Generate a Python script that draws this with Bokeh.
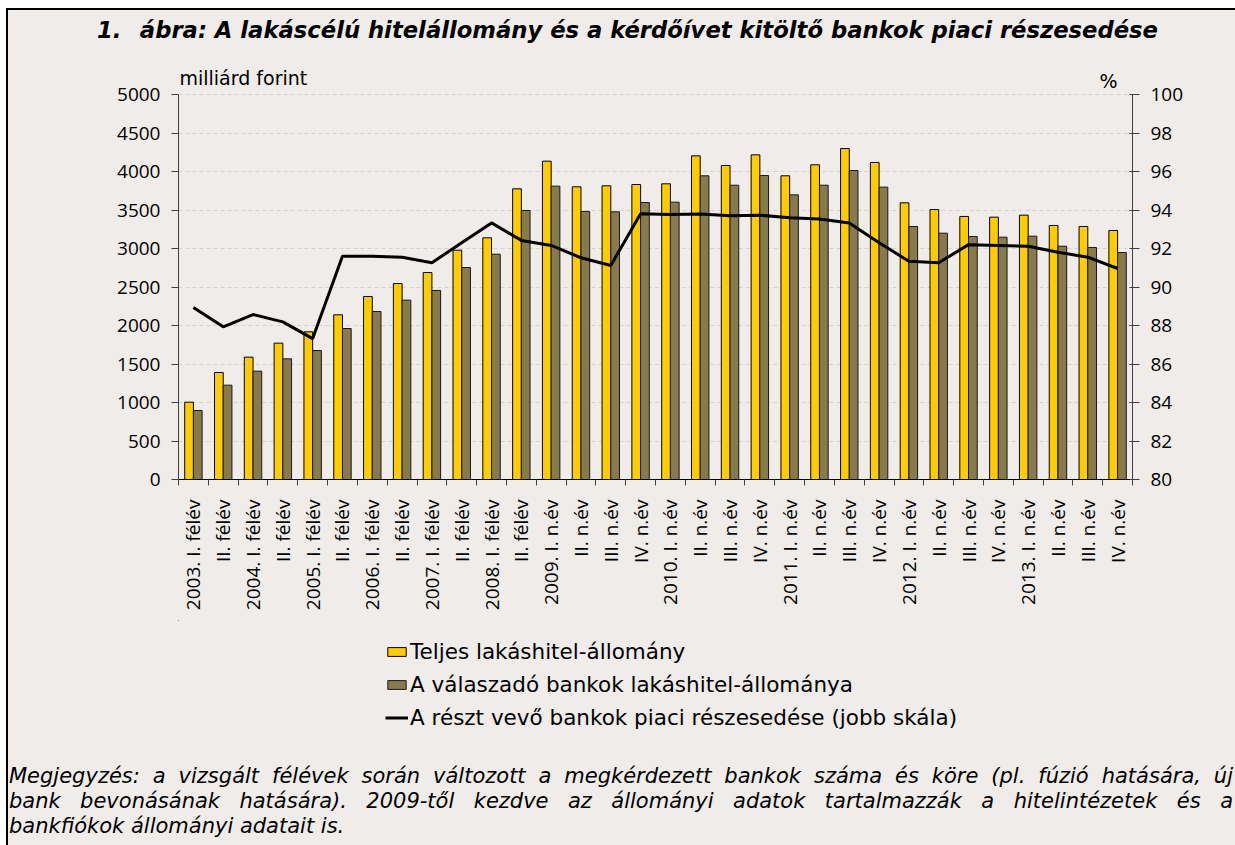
import math
from bokeh.plotting import figure
from bokeh.layouts import column
from bokeh.models import (ColumnDataSource, Range1d, LinearAxis, FixedTicker, Label,
                          Legend, LegendItem, Div)
from bokeh.transform import dodge
from bokeh.embed import file_html
from bokeh.resources import INLINE

# ---------------- data ----------------
categories = ["2003. I. félév", "II. félév", "2004. I. félév", "II. félév",
              "2005. I. félév", "II. félév", "2006. I. félév", "II. félév",
              "2007. I. félév", "II. félév", "2008. I. félév", "II. félév",
              "2009. I. n.év", "II. n.év", "III. n.év", "IV. n.év",
              "2010. I. n.év", "II. n.év", "III. n.év", "IV. n.év",
              "2011. I. n.év", "II. n.év", "III. n.év", "IV. n.év",
              "2012. I. n.év", "II. n.év", "III. n.év", "IV. n.év",
              "2013. I. n.év", "II. n.év", "III. n.év", "IV. n.év"]
total_stock = [1004, 1390, 1589, 1771, 1918, 2139, 2377, 2545, 2688, 2978, 3139, 3775,
               4134, 3801, 3814, 3831, 3840, 4203, 4078, 4216, 3944, 4087, 4298, 4117,
               3593, 3506, 3416, 3407, 3433, 3299, 3286, 3234]
resp_stock = [896, 1225, 1407, 1567, 1675, 1961, 2182, 2329, 2455, 2753, 2926, 3494,
              3810, 3481, 3476, 3597, 3602, 3944, 3822, 3948, 3697, 3822, 4013, 3797,
              3286, 3199, 3156, 3147, 3160, 3030, 3013, 2948]
market_share = [88.94, 87.93, 88.57, 88.19, 87.32, 91.60, 91.60, 91.55, 91.26, 92.30,
                93.33, 92.42, 92.16, 91.52, 91.12, 93.80, 93.77, 93.79, 93.70, 93.73,
                93.60, 93.53, 93.33, 92.30, 91.34, 91.26, 92.20, 92.16, 92.12, 91.81,
                91.55, 90.96]
left_ticks = list(range(0, 5001, 500))
right_ticks = list(range(80, 101, 2))

title_num = "1."
title_text = "ábra: A lakáscélú hitelállomány és a kérdőívet kitöltő bankok piaci részesedése"
left_unit = "milliárd forint"
right_unit = "%"
series_names = ["Teljes lakáshitel-állomány",
                "A válaszadó bankok lakáshitel-állománya",
                "A részt vevő bankok piaci részesedése (jobb skála)"]
note_lines = ["Megjegyzés: a vizsgált félévek során változott a megkérdezett bankok száma és köre (pl. fúzió hatására, új",
              "bank bevonásának hatására). 2009-től kezdve az állományi adatok tartalmazzák a hitelintézetek és a",
              "bankfiókok állományi adatait is."]

# ---------------- styling / layout ----------------
BG = "#efece9"
YELLOW = "#ffcc00"
OLIVE = "#877a4b"
TICK_FONT = "Open Sans"
TEXT_FONT = "DejaVu Sans"
W = 1227            # canvas width (page x 8 .. 1235)
X0, Y0 = 8, 10      # page position of canvas origin
MAIN_TOP = 55
FOOT_TOP = 620
LEG_BOTTOM = 752
PAGE_H = 845
F_LEFT, F_RIGHT = 178, 1132        # plot frame, page px
AX_TOP, AX_BOTTOM = 94, 479        # page y of 5000 / 0
MB_LEFT = F_LEFT - X0
MB_RIGHT = W - (F_RIGHT - X0)

# ---------------- header (HTML text) ----------------
hdr_h = MAIN_TOP - Y0
header_html = (
    f'<div style="position:relative;width:{W}px;height:{hdr_h}px;background:{BG};'
    f"font-family:'{TEXT_FONT}';font-weight:bold;font-style:italic;font-size:22.7px;"
    f'color:black;line-height:1;white-space:nowrap;">'
    f'<span style="position:absolute;left:{97 - X0}px;top:{30 - Y0}px;transform:translateY(-50%);">{title_num}</span>'
    f'<span style="position:absolute;right:{X0 + W - 1158}px;top:{30 - Y0}px;transform:translateY(-50%);">{title_text}</span>'
    f'</div>')
header = Div(text=header_html, width=W, height=hdr_h, margin=0,
             styles={"background-color": BG})

# ---------------- main chart ----------------
n = len(categories)
idx = list(range(n))
src = ColumnDataSource(dict(x=idx, total=total_stock, resp=resp_stock, share=market_share))

px_per_unit = (AX_BOTTOM - AX_TOP) / 5000.0
y_top = (AX_BOTTOM - MAIN_TOP) / px_per_unit
pct_top = 80 + 20 * (AX_BOTTOM - MAIN_TOP) / (AX_BOTTOM - AX_TOP)

p = figure(width=W, height=FOOT_TOP - MAIN_TOP, output_backend="svg", toolbar_location=None,
           x_range=Range1d(-0.5, n - 0.5), y_range=Range1d(0, y_top), margin=0,
           min_border_left=MB_LEFT, min_border_right=MB_RIGHT,
           min_border_top=0, min_border_bottom=FOOT_TOP - AX_BOTTOM,
           background_fill_color=BG, border_fill_color=BG, outline_line_color=None)
p.extra_y_ranges = {"pct": Range1d(80, pct_top)}

r_total = p.vbar(x=dodge("x", -0.146, range=p.x_range), top="total", width=0.292, bottom=0,
                 source=src, fill_color=YELLOW, line_color="black", line_width=1)
r_resp = p.vbar(x=dodge("x", 0.146, range=p.x_range), top="resp", width=0.292, bottom=0,
                source=src, fill_color=OLIVE, line_color="#1a1a1a", line_width=1)
r_line = p.line(x="x", y="share", source=src, y_range_name="pct",
                line_color="black", line_width=3)

p.xgrid.grid_line_color = None
p.ygrid.ticker = FixedTicker(ticks=left_ticks)
p.ygrid.grid_line_color = "#d6d3ce"
p.ygrid.grid_line_dash = "4 3"
p.ygrid.grid_line_width = 1

ya = p.yaxis[0]
ya.ticker = FixedTicker(ticks=left_ticks)
ya.bounds = (0, 5000)
ya.major_tick_in = 0
ya.major_tick_out = 7
ya.minor_tick_line_color = None
ya.major_label_standoff = 11
ya.axis_line_color = "#404040"
ya.major_tick_line_color = "#404040"
ya.major_label_text_font = TICK_FONT
ya.major_label_text_font_size = "19px"
ya.major_label_text_color = "black"

ra = LinearAxis(y_range_name="pct", ticker=FixedTicker(ticks=right_ticks), bounds=(80, 100))
ra.major_tick_in = 3
ra.major_tick_out = 7
ra.minor_tick_line_color = None
ra.major_label_standoff = 11
ra.axis_line_color = "#404040"
ra.major_tick_line_color = "#404040"
ra.major_label_text_font = TICK_FONT
ra.major_label_text_font_size = "19px"
ra.major_label_text_color = "black"
p.add_layout(ra, "right")

xa = p.xaxis[0]
xa.ticker = FixedTicker(ticks=idx, minor_ticks=[i - 0.5 for i in range(n + 1)])
xa.major_label_overrides = {i: lab for i, lab in enumerate(categories)}
xa.major_tick_line_color = None
xa.major_tick_out = 0
xa.major_tick_in = 0
xa.minor_tick_out = 6
xa.minor_tick_in = 0
xa.minor_tick_line_color = "#404040"
xa.axis_line_color = "black"
xa.major_label_orientation = math.pi / 2
xa.major_label_standoff = 14
xa.major_label_text_font = TICK_FONT
xa.major_label_text_font_size = "19px"
xa.major_label_text_color = "black"

cat_px = (F_RIGHT - F_LEFT) / n
p.add_layout(Label(x=-0.5 + 1 / cat_px, y=5000 + (AX_TOP - 77) / px_per_unit, text=left_unit,
                   text_font=TEXT_FONT, text_font_size="19px", text_baseline="middle",
                   text_align="left", text_color="black"))
p.add_layout(Label(x=-0.5 + (1108 - F_LEFT) / cat_px, y=5000 + (AX_TOP - 80) / px_per_unit,
                   text=right_unit, text_font=TEXT_FONT, text_font_size="19px",
                   text_baseline="middle", text_align="center", text_color="black"))

# ---------------- legend strip ----------------
leg = figure(width=W, height=LEG_BOTTOM - FOOT_TOP, output_backend="svg", toolbar_location=None,
             x_range=Range1d(F_LEFT, F_RIGHT), y_range=Range1d(LEG_BOTTOM, FOOT_TOP), margin=0,
             x_axis_type=None, y_axis_type=None,
             min_border_left=MB_LEFT, min_border_right=MB_RIGHT, min_border_top=0, min_border_bottom=0,
             background_fill_color=BG, border_fill_color=BG, outline_line_color=None)
leg.grid.visible = False
# legend proxies placed far outside the visible range
g1 = leg.vbar(x=[-5000], top=[-5000], width=1, fill_color=YELLOW, line_color="black", line_width=1)
g2 = leg.vbar(x=[-5000], top=[-5000], width=1, fill_color=OLIVE, line_color="#1a1a1a", line_width=1)
g3 = leg.line(x=[-5000, -4990], y=[-5000, -5000], line_color="black", line_width=3)
legend = Legend(items=[LegendItem(label=series_names[0], renderers=[g1]),
                       LegendItem(label=series_names[1], renderers=[g2]),
                       LegendItem(label=series_names[2], renderers=[g3])],
                location=(385 - F_LEFT, LEG_BOTTOM - 730), orientation="vertical",
                background_fill_alpha=0, border_line_color=None,
                padding=0, margin=0, spacing=8, glyph_width=23, glyph_height=11,
                label_standoff=2, label_height=20,
                label_text_font=TEXT_FONT, label_text_font_size="21.5px", label_text_color="black")
leg.add_layout(legend)

# ---------------- note (HTML text, justified like the original) ----------------
note_h = PAGE_H - LEG_BOTTOM
rows = []
for k, line in enumerate(note_lines):
    last = k == len(note_lines) - 1
    align = "text-align:left;" if last else "text-align:justify;text-align-last:justify;"
    rows.append(f'<div style="{align}white-space:nowrap;height:25px;line-height:25px;">{line}</div>')
note_html = (
    f'<div style="box-sizing:border-box;width:{W}px;height:{note_h}px;background:{BG};'
    f"padding:12px 2px 0 1px;font-family:'{TEXT_FONT}';font-style:italic;font-size:21px;"
    f'color:black;">' + "".join(rows) + '</div>')
note = Div(text=note_html, width=W, height=note_h, margin=0,
           styles={"background-color": BG})

layout = column(header, p, leg, note, spacing=0,
                styles={"margin-left": "6px", "margin-top": "8px", "background-color": BG,
                        "border-top": "2px solid black", "border-left": "2px solid black"})

open("out.html", "w").write(file_html(layout, INLINE))
